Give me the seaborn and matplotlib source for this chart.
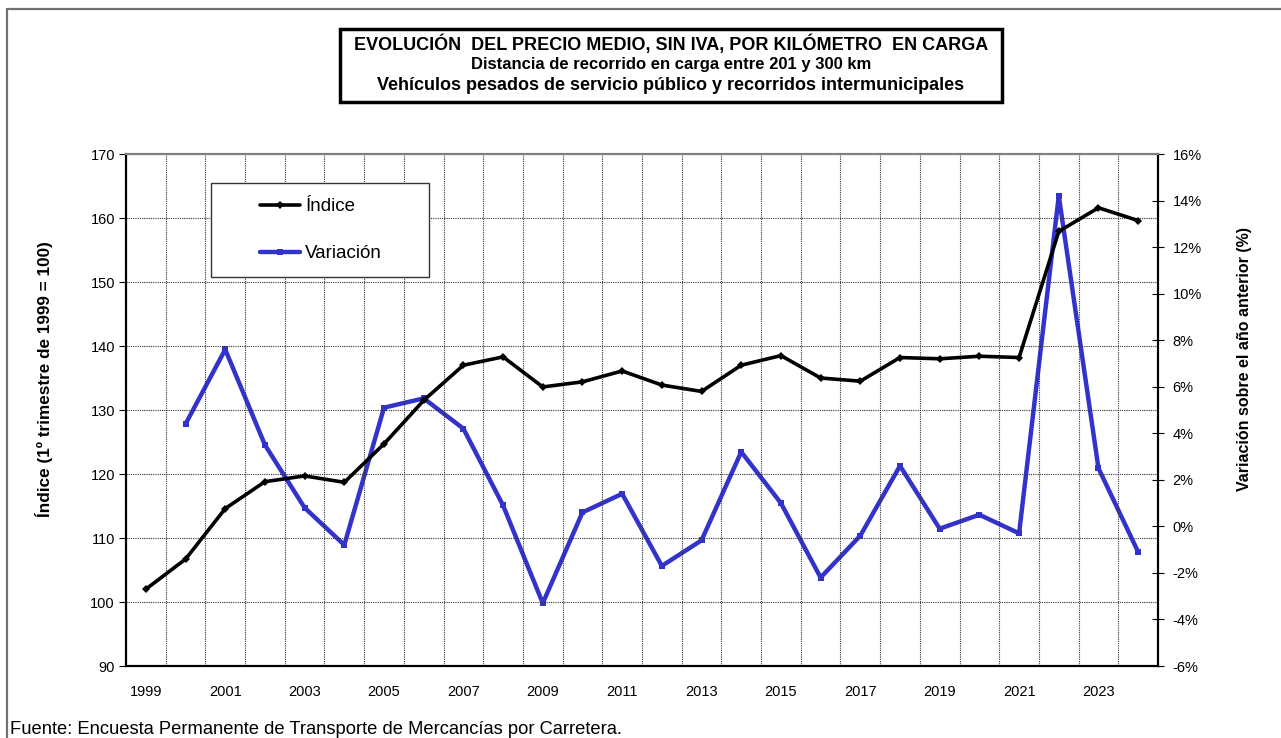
import numpy as np
import pandas as pd
import matplotlib
matplotlib.use("Agg")
import matplotlib.pyplot as plt
import seaborn as sns
from matplotlib.patches import Rectangle
from matplotlib.lines import Line2D
from matplotlib.ticker import FuncFormatter, FixedLocator

# ---- data ----
years = list(range(1999, 2025))
indice = [102.0, 106.7, 114.6, 118.8, 119.7, 118.7, 124.7, 131.5, 137.0, 138.3,
          133.6, 134.4, 136.1, 133.9, 132.9, 137.0, 138.5, 135.0, 134.5, 138.2,
          138.0, 138.4, 138.2, 157.9, 161.6, 159.6]
variacion = [np.nan, 4.4, 7.6, 3.5, 0.8, -0.8, 5.1, 5.5, 4.2, 0.9,
             -3.3, 0.6, 1.4, -1.7, -0.6, 3.2, 1.0, -2.2, -0.4, 2.6,
             -0.1, 0.5, -0.3, 14.2, 2.5, -1.1]
tick_years = [str(y) for y in years if y % 2 == 1]

title_lines = ["EVOLUCIÓN  DEL PRECIO MEDIO, SIN IVA, POR KILÓMETRO  EN CARGA",
               "Distancia de recorrido en carga entre 201 y 300 km",
               "Vehículos pesados de servicio público y recorridos intermunicipales"]
ylabel_left = "Índice (1º trimestre de 1999 = 100)"
ylabel_right = "Variación sobre el año anterior (%)"
fuente = "Fuente: Encuesta Permanente de Transporte de Mercancías por Carretera."

df = pd.DataFrame({"pos": np.arange(len(years)), "year": years,
                   "Índice": indice, "Variación": variacion})

sns.set_style("white")
plt.rcParams["font.family"] = ["Liberation Sans", "DejaVu Sans"]
for k in ["text.color", "axes.labelcolor", "xtick.color", "ytick.color"]:
    plt.rcParams[k] = "black"

W, H = 1281, 738
fig = plt.figure(figsize=(W / 100, H / 100), dpi=100)
L, R, T, B = 126, 1158, 154, 666
ax = fig.add_axes([L / W, 1 - B / H, (R - L) / W, (B - T) / H])
ax2 = ax.twinx()

blue = "#3333CC"
sns.lineplot(data=df, x="pos", y="Índice", ax=ax, color="black", linewidth=2.6,
             marker="D", markersize=4, markeredgewidth=0, label="Índice", legend=False)
sns.lineplot(data=df.dropna(), x="pos", y="Variación", ax=ax2, color=blue, linewidth=3.2,
             marker="s", markersize=4.5, markeredgewidth=0, label="Variación", legend=False)

n = len(years)
ax.set_xlim(-0.5, n - 0.5)
ax.set_ylim(90, 170)
ax.set_yticks(np.arange(90, 171, 10))
ax2.set_ylim(-6, 16)
ax2.set_yticks(np.arange(-6, 17, 2))
ax2.yaxis.set_major_formatter(FuncFormatter(lambda v, p: f"{v:.0f}%"))

# x ticks: marks at boundaries, labels at odd years
ax.xaxis.set_major_locator(FixedLocator(np.arange(-0.5, n, 1.0)))
ax.set_xticklabels([])
lab_pos = [i for i, y in enumerate(years) if y % 2 == 1]
ax.xaxis.set_minor_locator(FixedLocator(lab_pos))
ax.set_xticklabels(tick_years, minor=True)
ax.tick_params(axis="x", which="major", direction="out", length=4, width=0.8, color="black")
ax.tick_params(axis="x", which="minor", length=0, pad=14, labelsize=10.5)
ax.tick_params(axis="y", which="major", direction="out", length=5, width=0.8,
               color="black", labelsize=10.5, pad=3)
ax2.tick_params(axis="y", direction="inout", length=9, width=0.8, color="black",
                labelsize=10.5, pad=6)

ax.grid(True, which="major", axis="both", color="#333333", linestyle=(0, (1, 1)),
        linewidth=0.8)
ax.set_axisbelow(True)
ax.set_xlabel("")
ax.set_ylabel(ylabel_left, fontsize=12.3, fontweight="bold")
ax2.set_ylabel(ylabel_right, fontsize=11.5, fontweight="bold", rotation=90)
ax.yaxis.set_label_coords(-0.0705, 0.56)
ax2.yaxis.set_label_coords(1.0765, 0.60)

for a in (ax, ax2):
    for s in ["left", "right", "bottom"]:
        a.spines[s].set_color("black")
        a.spines[s].set_linewidth(1.5)
    a.spines["top"].set_color("#808080")
    a.spines["top"].set_linewidth(1.5)
    a.spines["top"].set_visible(True)

ax.set_zorder(ax2.get_zorder() + 1)
ax.patch.set_visible(False)

# legend box + legend
ax.add_patch(Rectangle((0.082, 0.760), 0.2116, 0.1834, transform=ax.transAxes,
                       facecolor="white", edgecolor="#333333", linewidth=1.0, zorder=5))
handles = [Line2D([], [], color="black", linewidth=2.6, marker="D", markersize=4,
                  markeredgewidth=0),
           Line2D([], [], color=blue, linewidth=3.2, marker="s", markersize=4.5,
                  markeredgewidth=0)]
leg = ax.legend(handles, ["Índice", "Variación"], loc="upper left",
                bbox_to_anchor=(0.1298, 0.914), frameon=False, fontsize=13.5,
                borderpad=0, borderaxespad=0, handlelength=2.15, handletextpad=0.27,
                labelspacing=1.6, markerfirst=True)
leg.set_zorder(6)

# title box
fig.add_artist(Rectangle((340 / W, 1 - 102 / H), 662 / W, 73 / H, transform=fig.transFigure,
                         facecolor="white", edgecolor="black", linewidth=2.5))
for yy, txt, fs in zip([44, 65, 86], title_lines, [13, 12, 13]):
    fig.text(671 / W, 1 - yy / H, txt, ha="center", va="center", fontsize=fs,
             fontweight="bold", family=["Liberation Sans Narrow", "Liberation Sans", "DejaVu Sans"])

fig.text(10 / W, 1 - 729 / H, fuente, ha="left", va="center", fontsize=13.2)

# outer frame
fig.add_artist(Line2D([7 / W, 7 / W], [0, 1 - 9 / H], transform=fig.transFigure,
                      color="#707070", linewidth=1.6))
fig.add_artist(Line2D([7 / W, 1], [1 - 9 / H, 1 - 9 / H], transform=fig.transFigure,
                      color="#707070", linewidth=1.6))

fig.savefig("out.png", dpi=100)
